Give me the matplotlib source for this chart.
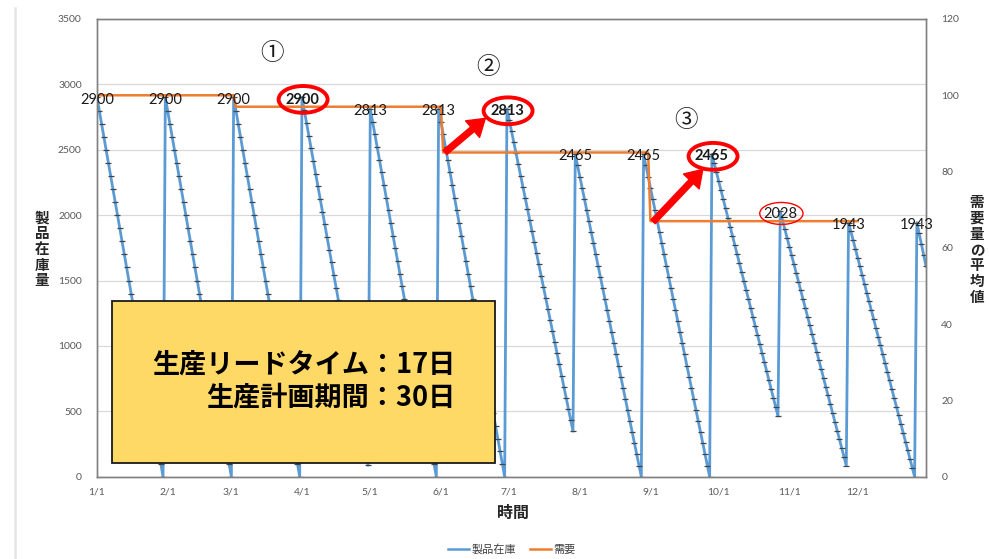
import numpy as np
import matplotlib
matplotlib.use("Agg")
import matplotlib.pyplot as plt
from matplotlib.patches import Rectangle, Ellipse
from matplotlib.lines import Line2D

plt.rcParams['font.family'] = ['Noto Sans CJK JP', 'DejaVu Sans']

# ---- data -------------------------------------------------------------
# Daily product inventory, one list per 30-day production cycle
inv_c01 = [2900, 2800, 2700, 2600, 2500, 2400, 2300, 2200, 2100, 2000, 1900, 1800, 1700, 1600, 1500,
           1400, 1300, 1200, 1100, 1000, 900, 800, 700, 600, 500, 400, 300, 200, 100, 0]
inv_c02 = [2900, 2800, 2700, 2600, 2500, 2400, 2300, 2200, 2100, 2000, 1900, 1800, 1700, 1600, 1500,
           1400, 1300, 1200, 1100, 1000, 900, 800, 700, 600, 500, 400, 300, 200, 100, 0]
inv_c03 = [2900, 2800, 2700, 2600, 2500, 2400, 2300, 2200, 2100, 2000, 1900, 1800, 1700, 1600, 1500,
           1400, 1300, 1200, 1100, 1000, 900, 800, 700, 600, 500, 400, 300, 200, 100, 0]
inv_c04 = [2900, 2803, 2706, 2609, 2512, 2415, 2318, 2221, 2124, 2027, 1930, 1833, 1736, 1639, 1542,
           1445, 1348, 1251, 1154, 1057, 960, 863, 766, 669, 572, 475, 378, 281, 184, 87]
inv_c05 = [2813, 2716, 2619, 2522, 2425, 2328, 2231, 2134, 2037, 1940, 1843, 1746, 1649, 1552, 1455,
           1358, 1261, 1164, 1067, 970, 873, 776, 679, 582, 485, 388, 291, 194, 97, 0]
inv_c06 = [2813, 2716, 2619, 2522, 2425, 2328, 2231, 2134, 2037, 1940, 1843, 1746, 1649, 1552, 1455,
           1358, 1261, 1164, 1067, 970, 873, 776, 679, 582, 485, 388, 291, 194, 97, 0]
inv_c07 = [2813, 2728, 2643, 2558, 2473, 2388, 2303, 2218, 2133, 2048, 1963, 1878, 1793, 1708, 1623,
           1538, 1453, 1368, 1283, 1198, 1113, 1028, 943, 858, 773, 688, 603, 518, 433, 348]
inv_c08 = [2465, 2380, 2295, 2210, 2125, 2040, 1955, 1870, 1785, 1700, 1615, 1530, 1445, 1360, 1275,
           1190, 1105, 1020, 935, 850, 765, 680, 595, 510, 425, 340, 255, 170, 85, 0]
inv_c09 = [2465, 2380, 2295, 2210, 2125, 2040, 1955, 1870, 1785, 1700, 1615, 1530, 1445, 1360, 1275,
           1190, 1105, 1020, 935, 850, 765, 680, 595, 510, 425, 340, 255, 170, 85, 0]
inv_c10 = [2465, 2396, 2327, 2258, 2189, 2120, 2051, 1982, 1913, 1844, 1775, 1706, 1637, 1568, 1499,
           1430, 1361, 1292, 1223, 1154, 1085, 1016, 947, 878, 809, 740, 671, 602, 533, 464]
inv_c11 = [2028, 1961, 1894, 1827, 1760, 1693, 1626, 1559, 1492, 1425, 1358, 1291, 1224, 1157, 1090,
           1023, 956, 889, 822, 755, 688, 621, 554, 487, 420, 353, 286, 219, 152, 85]
inv_c12 = [1943, 1876, 1809, 1742, 1675, 1608, 1541, 1474, 1407, 1340, 1273, 1206, 1139, 1072, 1005,
           938, 871, 804, 737, 670, 603, 536, 469, 402, 335, 268, 201, 134, 67, 0]
inv_c13 = [1943, 1860, 1777, 1694, 1611]

# Average daily demand (secondary axis): level and the day each level starts
demand_levels = [100, 97, 85, 67]
demand_start_days = [0, 61, 152, 243]
demand_last_day = 334

# Month-start day numbers and their labels
month_days = [0, 31, 59, 90, 120, 151, 181, 212, 243, 273, 304, 334]
month_labels = ['1/1', '2/1', '3/1', '4/1', '5/1', '6/1', '7/1', '8/1', '9/1', '10/1', '11/1', '12/1']

cycles = [inv_c01, inv_c02, inv_c03, inv_c04, inv_c05, inv_c06, inv_c07,
          inv_c08, inv_c09, inv_c10, inv_c11, inv_c12, inv_c13]
cycle_length = 30
highlighted_cycles = [3, 6, 9]      # bold, circled production quantities
thin_circled_cycles = [10]

# ---- series assembly ----------------------------------------------------
inventory = np.concatenate([np.asarray(c, float) for c in cycles])
days = np.arange(len(inventory))

bounds = demand_start_days + [demand_last_day + 1]
demand = np.concatenate([np.full(bounds[i + 1] - bounds[i], lvl, float)
                         for i, lvl in enumerate(demand_levels)])
demand_days = np.arange(len(demand))

BLUE = '#5B9BD5'
ORANGE = '#ED7D31'
GRID = '#D9D9D9'
SPINE = '#808080'
TICK = '#595959'

fig = plt.figure(figsize=(9.89, 5.59), dpi=100)
W, H = 989, 559


def fx(px):
    return px / W


def fy(py):
    return 1 - py / H


ax = fig.add_axes([fx(97), fy(476.7), (926 - 97) / W, (476.7 - 19) / H])
ax2 = ax.twinx()

ax.plot(days, inventory, color=BLUE, lw=2.0, marker='_', ms=4.0,
        mec='#454545', mew=0.9, zorder=2, label='製品在庫')
ax2.plot(demand_days, demand, color=ORANGE, lw=1.8, zorder=2, label='需要')

ax.set_xlim(0, 364)
ax.set_ylim(0, 3500)
ax.set_yticks(np.arange(0, 3501, 500))
ax2.set_ylim(0, 120)
ax2.set_yticks(np.arange(0, 121, 20))
ax.set_xticks(month_days)
ax.set_xticklabels(month_labels)

ax.yaxis.grid(True, color=GRID, lw=0.9)
ax.set_axisbelow(True)

for a in (ax, ax2):
    for s in a.spines.values():
        s.set_color(SPINE)
        s.set_linewidth(1.0)
    a.tick_params(length=0, labelsize=7.5, labelcolor=TICK, labelfontfamily='Lato')
ax.tick_params(axis='y', pad=11)
ax.tick_params(axis='x', pad=8)
ax2.tick_params(axis='y', pad=11)

# Peak (production quantity) labels
for i, c in enumerate(cycles):
    d0 = i * cycle_length
    v0 = c[0]
    bold = i in highlighted_cycles
    ax2.annotate(str(v0), xy=(d0, v0), xycoords=ax.transData,
                 xytext=(0, -1.5), textcoords='offset points',
                 ha='center', va='center', fontsize=10.5, family='Lato',
                 fontweight='bold' if bold else 'normal', color='#1a1a1a', zorder=5)
    if bold or i in thin_circled_cycles:
        w_days, h_val = (21.5, 205) if bold else (19, 168)
        ax2.add_patch(Ellipse((d0 + 0.5, v0 - 15), w_days, h_val, transform=ax.transData,
                              fill=False, ec='#FF0000', lw=2.8 if bold else 1.0, zorder=6))

# Red arrows pointing from demand change to the next production quantity
arrow_kw = dict(arrowstyle='simple,head_length=1.0,head_width=1.3,tail_width=0.35',
                color='#FF0000', mutation_scale=12, shrinkA=0, shrinkB=0)
ax2.annotate('', xy=(170.5, 2740), xycoords=ax.transData,
             xytext=(152.8, 2480), textcoords=ax.transData, arrowprops=arrow_kw, zorder=6)
ax2.annotate('', xy=(266.0, 2350), xycoords=ax.transData,
             xytext=(244.2, 1950), textcoords=ax.transData, arrowprops=arrow_kw, zorder=6)

# Circled step numbers
for s, (d, v) in zip(['①', '②', '③'], [(77, 3239), (171.5, 3132), (258.7, 2727)]):
    ax2.text(d, v, s, transform=ax.transData, ha='center', va='center',
             fontsize=17, color='#1a1a1a', zorder=6)

# Axis titles (stacked vertical Japanese text)
fig.text(fx(42), fy(249), '\n'.join('製品在庫量'), ha='center', va='center',
         fontsize=10.5, fontweight='bold', linespacing=0.98, color='#262626')
fig.text(fx(977), fy(249.5), '\n'.join('需要量の平均値'), ha='center', va='center',
         fontsize=10.5, fontweight='bold', linespacing=0.98, color='#262626')
fig.text(fx(513), fy(513), '時間', ha='center', va='center',
         fontsize=11.5, fontweight='bold', color='#262626')

# Legend
handles = [Line2D([], [], color=BLUE, lw=1.8), Line2D([], [], color=ORANGE, lw=1.8)]
fig.legend(handles, ['製品在庫', '需要'], loc='center', bbox_to_anchor=(fx(512), fy(549)),
           ncol=2, frameon=False, fontsize=8, handlelength=1.9, handletextpad=0.2,
           columnspacing=1.3, labelcolor='#404040')

# Info box
fig.add_artist(Rectangle((fx(112), fy(463)), (495 - 112) / W, (463 - 301) / H,
                         transform=fig.transFigure, facecolor='#FFD966',
                         edgecolor='#1a1a1a', lw=1.3, zorder=10))
fig.text(fx(455), fy(365), '生産リードタイム：17日', ha='right', va='center',
         fontsize=19.5, fontweight='bold', color='black', zorder=11)
fig.text(fx(455), fy(398), '生産計画期間：30日', ha='right', va='center',
         fontsize=19.5, fontweight='bold', color='black', zorder=11)

# Page edge line
fig.add_artist(Line2D([fx(14.5), fx(14.5)], [0, fy(8)], transform=fig.transFigure,
                      color='#E6E6E6', lw=1.8, zorder=0))

fig.savefig('out.png', dpi=100)
